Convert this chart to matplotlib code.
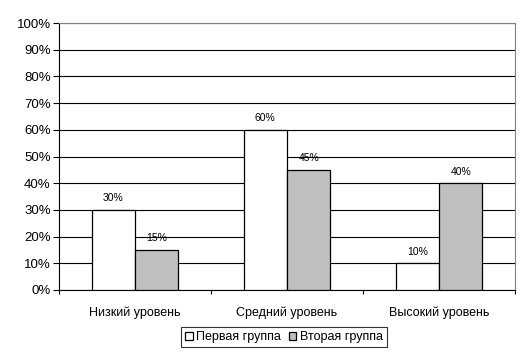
import numpy as np
import matplotlib.pyplot as plt
from matplotlib.ticker import FuncFormatter, MultipleLocator, FixedLocator

plt.rcParams['font.family'] = ['Liberation Sans', 'DejaVu Sans']

categories = ["Низкий уровень", "Средний уровень", "Высокий уровень"]
group1 = [30, 60, 10]
group2 = [15, 45, 40]
series_names = ["Первая группа", "Вторая группа"]

fig = plt.figure(figsize=(5.28, 3.58), dpi=100)
ax = fig.add_axes([59 / 528, 1 - 290 / 358, 456 / 528, 267 / 358])

x = np.arange(len(categories))
w = 0.2857
b1 = ax.bar(x - w / 2, group1, w, color="white", edgecolor="black", linewidth=0.9,
            label=series_names[0], zorder=3)
b2 = ax.bar(x + w / 2, group2, w, color="#C0C0C0", edgecolor="black", linewidth=0.9,
            label=series_names[1], zorder=3)

for bars in (b1, b2):
    for r in bars:
        h = r.get_height()
        ax.text(r.get_x() + r.get_width() / 2, h + 2.5, f"{h:.0f}%",
                ha="center", va="bottom", fontsize=7.5, zorder=4)

ax.set_xlim(-0.5, 2.5)
ax.set_ylim(0, 100)
ax.yaxis.set_major_locator(MultipleLocator(10))
ax.yaxis.set_major_formatter(FuncFormatter(lambda v, p: f"{v:.0f}%"))
ax.grid(axis="y", color="black", linewidth=0.8, zorder=1)

ax.set_xticks(x)
ax.set_xticklabels(categories, fontsize=9)
ax.tick_params(axis="x", length=0, pad=12)
ax.xaxis.set_minor_locator(FixedLocator([-0.5, 0.5, 1.5, 2.5]))
ax.tick_params(axis="x", which="minor", length=3, width=0.8)
ax.tick_params(axis="y", labelsize=9.5, length=4, width=0.8, pad=2)

for s in ["top", "right"]:
    ax.spines[s].set_color("#808080")
    ax.spines[s].set_linewidth(0.8)
ax.spines["left"].set_linewidth(0.8)
ax.spines["bottom"].set_linewidth(0.8)

leg = fig.legend(loc="center", bbox_to_anchor=(284 / 528, 1 - 337 / 358), ncol=2,
                 fontsize=9, frameon=True, fancybox=False, edgecolor="black",
                 handlelength=0.6, handleheight=0.6, handletextpad=0.3,
                 columnspacing=0.6, borderpad=0.3, borderaxespad=0)
leg.get_frame().set_linewidth(0.8)

fig.savefig("out.png", dpi=100)
